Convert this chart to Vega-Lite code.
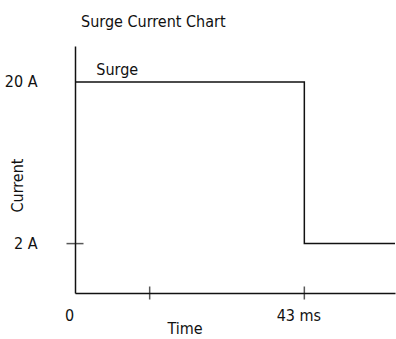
{
  "$schema": "https://vega.github.io/schema/vega-lite/v6.json",
  "autosize": "none",
  "padding": {"left": 75, "top": 46, "right": 1, "bottom": 46},
  "width": 320,
  "height": 247,
  "background": "white",
  "config": {
    "font": "Liberation Sans Narrow, DejaVu Sans Condensed, Roboto",
    "view": {"stroke": null},
    "axis": {"domainColor": "#111", "domainWidth": 1.5, "labelColor": "#111", "titleColor": "#111", "labelFontSize": 16, "titleFontSize": 16, "titleFontWeight": "normal", "grid": false, "ticks": false}
  },
  "title": {"text": "Surge Current Chart", "anchor": "start", "frame": "group", "dx": 6, "offset": 16, "fontSize": 16, "fontWeight": "normal", "color": "#111"},
  "datasets": {
    "step": [
      {"time": 0, "current": 20, "order": 1},
      {"time": 43, "current": 20, "order": 2},
      {"time": 43, "current": 2, "order": 3},
      {"time": 60, "current": 2, "order": 4}
    ],
    "xticks": [{"time": 14, "current": -3.5}, {"time": 43, "current": -3.5}],
    "yticks": [{"time": 0, "current": 2}],
    "label": [{"time": 4, "current": 20, "text": "Surge"}]
  },
  "layer": [
    {
      "data": {"name": "step"},
      "mark": {"type": "line", "color": "#111", "strokeWidth": 1.5},
      "encoding": {
        "x": {"field": "time", "type": "quantitative", "scale": {"domain": [0, 60], "nice": false, "zero": false},
          "axis": {"values": [0, 43], "labelExpr": "datum.value == 43 ? '43 ms' : '0'", "labelPadding": 14, "labelOffset": -6, "labelFlush": false, "title": "Time", "titleX": 92, "titleY": 43, "titleAlign": "left", "titleBaseline": "bottom"}},
        "y": {"field": "current", "type": "quantitative", "scale": {"domain": [-3.5, 24], "nice": false, "zero": false},
          "axis": {"values": [2, 20], "labelExpr": "datum.value + ' A'", "labelPadding": 38, "labelFlush": false, "title": "Current", "titleX": -58, "titleY": 139, "titleAngle": -90, "titleAlign": "center", "titleBaseline": "middle"}},
        "order": {"field": "order", "type": "quantitative"}
      }
    },
    {
      "data": {"name": "xticks"},
      "mark": {"type": "tick", "orient": "vertical", "color": "#111", "size": 13, "thickness": 1.5},
      "encoding": {
        "x": {"field": "time", "type": "quantitative"},
        "y": {"field": "current", "type": "quantitative"}
      }
    },
    {
      "data": {"name": "yticks"},
      "mark": {"type": "tick", "orient": "horizontal", "color": "#111", "size": 17, "thickness": 1.5},
      "encoding": {
        "x": {"field": "time", "type": "quantitative"},
        "y": {"field": "current", "type": "quantitative"}
      }
    },
    {
      "data": {"name": "label"},
      "mark": {"type": "text", "align": "left", "baseline": "bottom", "dy": -4, "fontSize": 16, "color": "#111"},
      "encoding": {
        "x": {"field": "time", "type": "quantitative"},
        "y": {"field": "current", "type": "quantitative"},
        "text": {"field": "text"}
      }
    }
  ]
}
